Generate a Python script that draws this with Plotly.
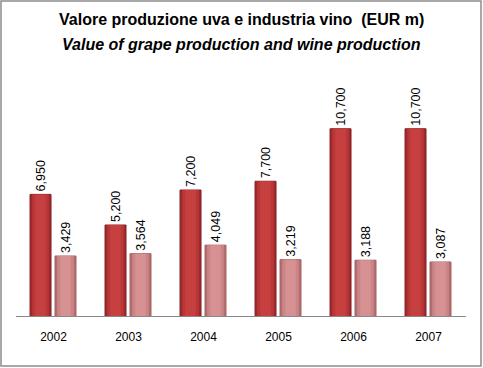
import plotly.graph_objects as go

years = ["2002", "2003", "2004", "2005", "2006", "2007"]
grape_values = [6950, 5200, 7200, 7700, 10700, 10700]
wine_values = [3429, 3564, 4049, 3219, 3188, 3087]
grape_labels = ["6,950", "5,200", "7,200", "7,700", "10,700", "10,700"]
wine_labels = ["3,429", "3,564", "4,049", "3,219", "3,188", "3,087"]

font_family = "Liberation Sans, Open Sans, sans-serif"
BAR_W = 0.28
DARK_OFF = -0.313
LIGHT_OFF = 0.02


def bar(values, off, w, color, line_color=None, text=None):
    return go.Bar(
        x=years, y=values, offset=off, width=w,
        marker=dict(color=color,
                    line=dict(color=line_color or color, width=1 if line_color else 0)),
        text=text, textposition="outside" if text else "none", textangle=-90,
        constraintext="none", cliponaxis=False,
        textfont=dict(size=12.5, color="#000000", family=font_family),
        hoverinfo="skip",
    )


fig = go.Figure()
# grape production bars (dark red) with inner highlight
fig.add_trace(bar(grape_values, DARK_OFF, BAR_W, "#9E2A2C", "#862325", grape_labels))
fig.add_trace(bar(grape_values, DARK_OFF + 0.03, BAR_W - 0.06, "#BA3638"))
fig.add_trace(bar(grape_values, DARK_OFF + 0.07, BAR_W - 0.14, "#C6403F"))
# wine production bars (pink) with inner highlight
fig.add_trace(bar(wine_values, LIGHT_OFF, BAR_W, "#B56E6F", "#A46262", wine_labels))
fig.add_trace(bar(wine_values, LIGHT_OFF + 0.03, BAR_W - 0.06, "#CC8586"))
fig.add_trace(bar(wine_values, LIGHT_OFF + 0.07, BAR_W - 0.14, "#D69192"))

fig.update_layout(
    width=483, height=368,
    margin=dict(l=16, r=17, t=106, b=52),
    paper_bgcolor="white", plot_bgcolor="white",
    barmode="overlay",
    showlegend=False,
    font=dict(family=font_family, size=12, color="#000000"),
    xaxis=dict(showline=True, linecolor="#888888", linewidth=1, ticks="",
               tickfont=dict(size=12), showgrid=False, ticklabelstandoff=10),
    yaxis=dict(range=[0, 12000], visible=False, showgrid=False),
    shapes=[dict(type="rect", xref="paper", yref="paper",
                 x0=-15 / 450, x1=465 / 450, y0=-50 / 210, y1=(210 + 105) / 210,
                 line=dict(color="#8C8C8C", width=1.5), fillcolor="rgba(0,0,0,0)")],
)


def ypaper(px):
    return (316 - px) / 210


fig.add_annotation(text="<b>Valore produzione uva e industria vino  (EUR m)</b>",
                   x=0.5, y=ypaper(20), xref="paper", yref="paper", yanchor="middle",
                   showarrow=False, font=dict(size=16, family=font_family))
fig.add_annotation(text="<b><i>Value of grape production and wine production</i></b>",
                   x=0.5, y=ypaper(45), xref="paper", yref="paper", yanchor="middle",
                   showarrow=False, font=dict(size=16, family=font_family))

fig.write_html("out.html", config={"displayModeBar": False},
               post_script="document.body.style.margin='0';")
